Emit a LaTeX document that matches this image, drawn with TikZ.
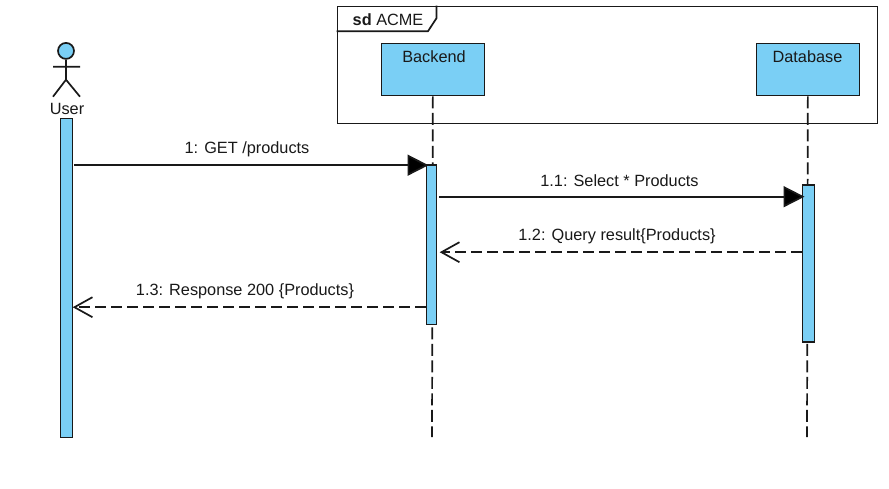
\documentclass[tikz,border=0pt]{standalone}
\usepackage{fontspec}
\setmainfont{Liberation Sans}
\usetikzlibrary{arrows.meta}
\definecolor{fillblue}{RGB}{122,207,245}
\tikzset{
  x=1pt,y=-1pt,
  every node/.style={font=\fontsize{16.3}{18}\selectfont,inner sep=0pt,text=black!90},
  solidline/.style={line width=1.7pt,draw=black!90},
  lifebox/.style={solidline,fill=fillblue,minimum width=103pt,minimum height=52pt,anchor=north west},
  activation/.style={solidline,fill=fillblue,anchor=north west},
  lifeline/.style={solidline,dash pattern=on 12pt off 4.5pt},
  syncmsg/.style={solidline,-{Triangle[length=21pt,width=21pt,fill=black]}},
  replymsg/.style={solidline,dash pattern=on 11pt off 5pt,-{Straight Barb[length=18pt,width=20pt,line width=1.7pt]}},
  msglabel/.style={anchor=base},
}
\begin{document}
\begin{tikzpicture}
\useasboundingbox (1,0.8) rectangle (890,488.8);
\fill[white] (1,0.8) rectangle (890,488.8);
% frame
\node[solidline,anchor=north west,minimum width=540pt,minimum height=117pt] (frame) at (337.5,6.5) {};
\coordinate (t1) at (337.5,32);
\coordinate (t2) at (429,32);
\coordinate (t3) at (437.5,19);
\coordinate (t4) at (437.5,6.5);
\draw[solidline] (t1) -- (t2) -- (t3) -- (t4);
\node[anchor=base west] (sdlabel) at (353.5,26) {\textbf{sd} ACME};
% heads
\coordinate (bk) at (381.5,43.5);
\coordinate (db) at (756.5,43.5);
\node[lifebox] (backend) at (bk) {};
\node[lifebox] (database) at (db) {};
\node[anchor=base] (backendt) at (435,63) {Backend};
\node[anchor=base] (databaset) at (808.5,63) {Database};
% lifeline ends
\coordinate (bend) at (433,438);
\coordinate (dend) at (808,438);
\draw[lifeline] (backend.south) -- (bend);
\draw[lifeline] (database.south) -- (dend);
% actor
\node[solidline,circle,fill=fillblue,minimum size=16pt] (head) at (67,51.7) {};
\coordinate (hip) at (67,80.5);
\coordinate (arml) at (54,67.5);
\coordinate (armr) at (81,67.5);
\coordinate (legl) at (54,97.5);
\coordinate (legr) at (81,97.5);
\draw[solidline] (head.south) -- (hip) (arml) -- (armr) (legl) -- (hip) -- (legr);
\node[anchor=base] (user) at (68,115.5) {User};
% activations
\node[activation,minimum width=12pt,minimum height=319pt] (ua) at (60.5,118.5) {};
\node[activation,minimum width=10pt,minimum height=159.5pt] (ba) at (426.5,165) {};
\node[activation,minimum width=12pt,minimum height=157pt] (da) at (802.5,185) {};
% message levels
\coordinate (y1) at (0,166);
\coordinate (y2) at (0,197.5);
\coordinate (y3) at (0,253);
\coordinate (y4) at (0,308);
\draw[syncmsg] ([xshift=1pt]ua.east |- y1) -- ([xshift=3pt]ba.west |- y1);
\draw[syncmsg] ([xshift=2pt]ba.east |- y2) -- ([xshift=3pt]da.west |- y2);
\draw[replymsg] (da.west |- y3) -- ([xshift=2.5pt]ba.east |- y3);
\draw[replymsg] (ba.west |- y4) -- ([xshift=-0.5pt]ua.east |- y4);
% labels
\node[msglabel] (l1) at (248,154) {1: GET /products};
\node[msglabel] (l2) at (620.5,187) {1.1: Select * Products};
\node[msglabel] (l3) at (618,241) {1.2: Query result\{Products\}};
\node[msglabel] (l4) at (246,296) {1.3: Response 200 \{Products\}};
\end{tikzpicture}
\end{document}
